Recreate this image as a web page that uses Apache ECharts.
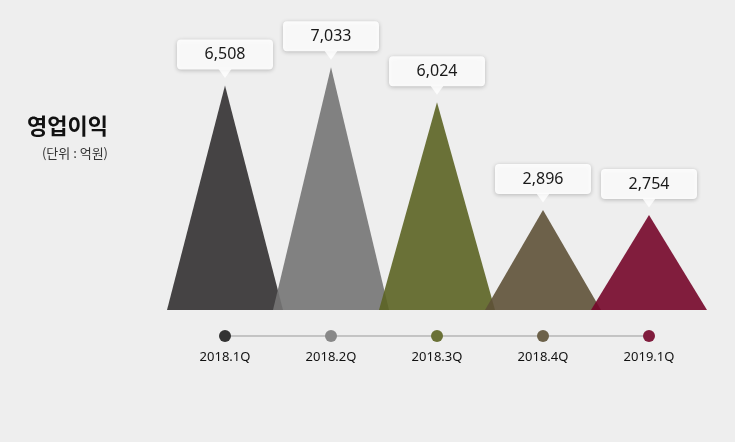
<!DOCTYPE html>
<html>
<head>
<meta charset="utf-8">
<script src="https://cdn.jsdelivr.net/npm/echarts@6/dist/echarts.min.js"></script>
<style>
  html, body { margin: 0; padding: 0; background: #eeeeee; }
  #chart { width: 735px; height: 442px; }
</style>
</head>
<body>
<div id="chart"></div>
<script>
// quarterly operating profit (unit: 100M won)
const quarters = ["2018.1Q", "2018.2Q", "2018.3Q", "2018.4Q", "2019.1Q"];
const profit = [6508, 7033, 6024, 2896, 2754];

// one colour per quarter; triangles are drawn at 0.9 opacity so the
// overlaps blend, hence the slightly darker base tones
const palette = ["#323031", "#747474", "#5b6322", "#5e5137", "#740529"];
const dotPalette = ["#333333", "#888888", "#6a7136", "#6c6149", "#801c3d"];

const numFont = '"Noto Sans", "Open Sans", sans-serif';
const krFont = '"Noto Sans CJK KR", "Noto Sans", sans-serif';

const chart = echarts.init(document.getElementById("chart"), null, { renderer: "canvas" });

chart.setOption({
    backgroundColor: "#eeeeee",
    animation: false,
    graphic: [
        {
            type: "text", right: 735 - 108, top: 115,
            style: { text: "영업이익", font: "bold 22px " + krFont, fill: "#111111", textAlign: "right" }
        },
        {
            type: "text", right: 735 - 108, top: 147,
            style: { text: "(단위 : 억원)", font: "13px " + krFont, fill: "#333333", textAlign: "right" }
        }
    ],
    grid: [
        { left: 172, right: 33, top: 34, bottom: 132 },
        { left: 172, right: 33, top: 326, height: 20 }
    ],
    xAxis: [
        {
            type: "category", gridIndex: 0, data: quarters,
            axisLine: { show: false }, axisTick: { show: false }, axisLabel: { show: false }
        },
        {
            type: "category", gridIndex: 1, data: quarters,
            axisLine: { show: false }, axisTick: { show: false },
            axisLabel: { color: "#111111", fontSize: 13, fontFamily: numFont, margin: 5 }
        }
    ],
    yAxis: [
        { type: "value", gridIndex: 0, min: 0, max: 8000, show: false },
        { type: "value", gridIndex: 1, min: -1, max: 1, show: false }
    ],
    series: [
        {
            type: "pictorialBar",
            xAxisIndex: 0, yAxisIndex: 0,
            symbol: "triangle",
            symbolSize: [116, "100%"],
            z: 2,
            data: profit.map((v, i) => ({
                value: v,
                itemStyle: { color: palette[i], opacity: 0.9 }
            })),
            label: {
                show: true,
                position: "top",
                distance: 16,
                formatter: p => p.value.toLocaleString("en-US"),
                color: "#000000",
                fontSize: 16,
                fontFamily: numFont,
                backgroundColor: "#ffffff",
                borderRadius: 4,
                width: 84,
                align: "center",
                padding: [6, 6, 6, 6],
                lineHeight: 18,
                shadowColor: "rgba(0,0,0,0.25)",
                shadowBlur: 4,
                shadowOffsetY: 1
            }
        },
        {
            // little pointer under each callout box
            type: "scatter",
            xAxisIndex: 0, yAxisIndex: 0,
            symbol: "triangle",
            symbolRotate: 180,
            symbolSize: [13, 9],
            symbolOffset: [0, -12],
            z: 5,
            silent: true,
            itemStyle: { color: "#ffffff" },
            data: profit
        },
        {
            type: "line",
            xAxisIndex: 1, yAxisIndex: 1,
            symbol: "circle",
            symbolSize: 12,
            showSymbol: true,
            lineStyle: { color: "#999999", width: 1 },
            data: quarters.map((q, i) => ({
                value: 0,
                itemStyle: { color: dotPalette[i], borderWidth: 0 }
            }))
        }
    ]
});
</script>
</body>
</html>
